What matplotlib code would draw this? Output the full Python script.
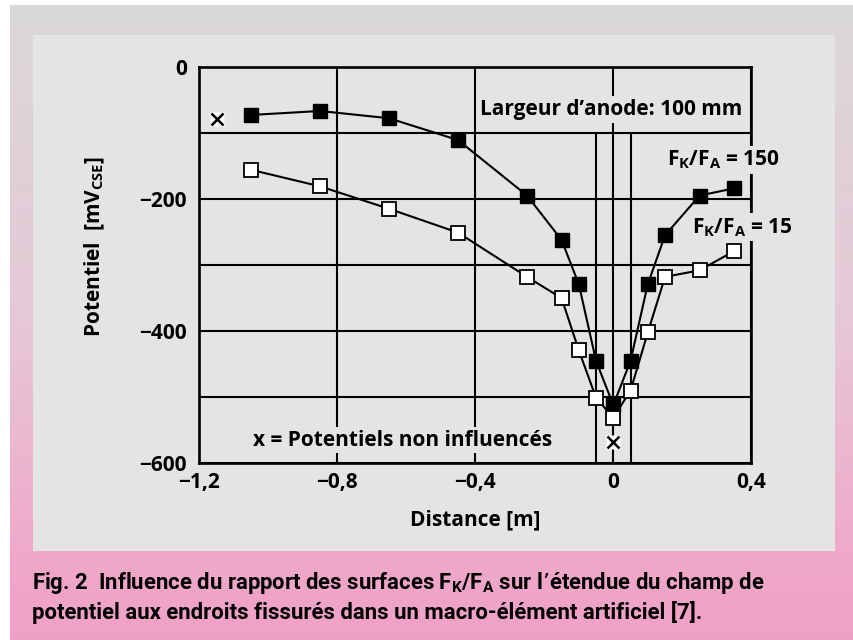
import matplotlib
matplotlib.use('Agg')
import matplotlib.pyplot as plt
import numpy as np
from matplotlib.patches import Rectangle

plt.rcParams['font.family'] = ['Open Sans', 'DejaVu Sans']
plt.rcParams['font.weight'] = 'bold'
plt.rcParams['font.size'] = 15

# Distance [m]
dist = [-1.05, -0.85, -0.65, -0.45, -0.25, -0.15, -0.10, -0.05, 0.0, 0.05, 0.10, 0.15, 0.25, 0.35]
# Potentiel [mV CSE]
pot_150 = [-73, -67, -78, -111, -195, -262, -329, -445, -512, -445, -329, -255, -195, -184]
pot_15 = [-156, -181, -215, -251, -318, -350, -429, -501, -531, -490, -402, -318, -308, -279]
# potentiels non influencés (x)
x_free = [-1.15, 0.0]
pot_free = [-79, -568]
# bords de l'anode (100 mm)
anode = [-0.05, 0.05]

xticks = [-1.2, -0.8, -0.4, 0, 0.4]
xlabels = ['−1,2', '−0,8', '−0,4', '0', '0,4']
yticks = [0, -200, -400, -600]
ylabels = ['0', '−200', '−400', '−600']
ygrid_minor = [-100, -300, -500]

W, H = 854, 640
panel = '#e4e4e4'

fig = plt.figure(figsize=(W / 100, H / 100), dpi=100)

# fond: dégradé gris -> rose + cadre gris clair
bg = fig.add_axes([0, 0, 1, 1], zorder=-1)
stops = np.array([[218, 216, 218], [230, 200, 214], [239, 170, 202], [240, 160, 198]]) / 255
pos = [0, 0.5, 0.85, 1]
t = np.linspace(0, 1, 256)
grad = np.stack([np.interp(t, pos, stops[:, i]) for i in range(3)], axis=1)[:, None, :]
bg.imshow(grad, extent=[10, W, H, 5], aspect='auto')
bg.add_patch(Rectangle((33, 35), 802, 516, facecolor=panel, edgecolor='none'))
bg.set_xlim(0, W)
bg.set_ylim(H, 0)
bg.axis('off')

ax = fig.add_axes([199.3 / W, 1 - 463.3 / H, 552 / W, 396.6 / H])
ax.set_facecolor(panel)
ax.set_xlim(-1.2, 0.4)
ax.set_ylim(-600, 0)
ax.set_xticks(xticks, xlabels)
ax.set_yticks(yticks, ylabels)
ax.set_yticks(ygrid_minor, minor=True)
ax.tick_params(which='both', length=0)
ax.tick_params(axis='x', pad=6)
ax.tick_params(axis='y', pad=9)
ax.grid(which='both', color='black', linewidth=1.5)
ax.set_axisbelow(True)
for s in ax.spines.values():
    s.set_linewidth(1.9)
ax.vlines(anode, -600, -100, color='black', linewidth=1.5, zorder=1)

ax.plot(dist, pot_150, color='black', lw=1.5, marker='s', ms=9.5,
        mfc='black', mec='black', zorder=5)
ax.plot(dist, pot_15, color='black', lw=1.5, marker='s', ms=9.5,
        mfc='white', mec='black', mew=1.3, zorder=6)
ax.plot(x_free, pot_free, ls='none', marker='s', ms=10, mfc='white', mec='none', zorder=7)
ax.plot(x_free, pot_free, ls='none', marker='x', ms=8, mec='black', mew=1.8, zorder=8)

box = dict(facecolor=panel, edgecolor='none', pad=2)
ax.text(-0.005, -65, 'Largeur d’anode: 100 mm', ha='center', va='center', bbox=box, zorder=3)
ax.text(-0.611, -565, 'x = Potentiels non influencés', ha='center', va='center', bbox=box, zorder=3)
ax.text(0.318, -141, 'F$_\\mathregular{K}$/F$_\\mathregular{A}$ = 150', ha='center', va='center',
        bbox=box, zorder=3)
ax.text(0.375, -243, 'F$_\\mathregular{K}$/F$_\\mathregular{A}$ = 15', ha='center', va='center',
        bbox=box, zorder=3)

fig.text(95 / W, 1 - 247 / H, 'Potentiel  [mV$_\\mathregular{CSE}$]', rotation=90,
         ha='center', va='center')
fig.text(475 / W, 1 - 520 / H, 'Distance [m]', ha='center', va='center')

cap_font = ['Roboto', 'DejaVu Sans']
fig.text(32 / W, 1 - 583 / H,
         'Fig. 2  Influence du rapport des surfaces F$_\\mathregular{K}$/F$_\\mathregular{A}$ '
         'sur l’étendue du champ de', fontsize=15.9, family=cap_font, va='center')
fig.text(32 / W, 1 - 613 / H,
         'potentiel aux endroits fissurés dans un macro-élément artificiel [7].',
         fontsize=15.9, family=cap_font, va='center')

fig.savefig('out.png', dpi=100)
